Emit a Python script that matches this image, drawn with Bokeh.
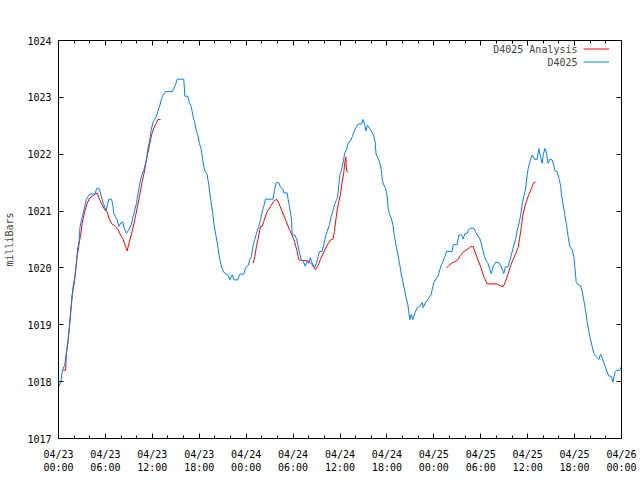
from bokeh.plotting import figure
from bokeh.models import FixedTicker, LinearAxis, Range1d, Label, Legend, LegendItem, CustomLabelingPolicy
from bokeh.embed import file_html
from bokeh.resources import INLINE

title_text = "Barometric Pressure for D4025 on 2024-Apr-23 (time in UTC)"
y_label = "milliBars"
series_names = ["D4025 Analysis", "D4025"]

# x values: hours since 2024-04-23 00:00 UTC
x_major = [0, 6, 12, 18, 24, 30, 36, 42, 48, 54, 60, 66, 72]
x_minor = list(range(0, 73, 2))
x_labels = ["04/23\n00:00", "04/23\n06:00", "04/23\n12:00", "04/23\n18:00",
            "04/24\n00:00", "04/24\n06:00", "04/24\n12:00", "04/24\n18:00",
            "04/25\n00:00", "04/25\n06:00", "04/25\n12:00", "04/25\n18:00",
            "04/26\n00:00"]
y_major = [1017, 1018, 1019, 1020, 1021, 1022, 1023, 1024]

obs_hours = [0.0, 0.3, 0.5, 0.8, 1.0, 1.24, 1.4, 1.53, 1.66, 1.88, 2.09, 2.26, 2.39, 2.6, 2.73, 2.94,
             3.16, 3.45, 3.58, 4.0, 4.64, 4.9, 5.15, 5.37, 5.58, 5.8, 6.1, 6.3, 6.43, 6.78, 6.94, 7.07,
             7.29, 7.5, 7.71, 7.97, 8.22, 8.4, 8.7, 9.0, 9.3, 9.5, 9.76, 9.97, 10.19, 10.36, 10.6, 10.9,
             11.13, 11.34, 11.42, 11.68, 11.85, 12.1, 12.27, 12.49, 12.7, 12.92, 13.13, 13.39, 13.68,
             14.54, 14.76, 14.98, 15.2, 16.02, 16.16, 16.53, 16.75, 16.97, 17.17, 17.39, 17.6, 17.81,
             18.03, 18.25, 18.45, 18.67, 19.01, 19.22, 19.35, 19.53, 19.73, 19.86, 20.08, 20.3, 20.5,
             20.72, 20.93, 21.23, 21.65, 21.91, 22.21, 22.42, 22.93, 23.18, 23.7, 23.91, 24.25, 24.46,
             24.68, 24.9, 25.1, 25.32, 25.62, 25.83, 26.05, 26.25, 26.47, 27.45, 27.62, 27.84, 28.17,
             28.39, 28.68, 28.81, 29.25, 29.37, 29.54, 29.8, 29.88, 30.22, 30.44, 30.65, 30.82, 31.04,
             31.3, 31.55, 31.8, 32.0, 32.2, 32.43, 32.74, 33.0, 33.2, 33.4, 33.7, 33.93, 34.2, 34.36,
             34.65, 34.87, 35.08, 35.3, 35.55, 35.72, 35.85, 35.98, 36.2, 36.42, 36.6, 36.85, 37.02,
             37.28, 37.58, 37.8, 38.1, 38.31, 38.74, 38.95, 39.17, 39.3, 39.51, 39.77, 40.03, 40.28,
             40.49, 40.62, 40.87, 41.1, 41.3, 41.4, 41.6, 41.82, 42.04, 42.16, 42.33, 42.55, 42.76,
             42.97, 43.19, 43.4, 43.6, 43.82, 44.03, 44.25, 44.46, 44.67, 44.93, 45.1, 45.31, 45.57,
             45.87, 46.2, 46.51, 46.64, 46.93, 47.36, 47.66, 47.79, 48.0, 48.21, 48.51, 48.77, 48.98,
             49.2, 49.4, 49.62, 50.35, 50.48, 50.99, 51.2, 51.54, 51.76, 51.96, 52.27, 52.47, 52.69,
             53.11, 53.32, 53.54, 53.84, 54.05, 54.26, 54.48, 54.7, 54.9, 55.16, 55.34, 55.6, 55.9,
             56.3, 56.6, 56.95, 57.16, 57.5, 57.7, 57.92, 58.14, 58.44, 58.65, 58.86, 59.07, 59.29,
             59.5, 59.72, 59.94, 60.07, 60.23, 60.36, 60.58, 60.87, 61.22, 61.42, 61.64, 61.86, 61.99,
             62.2, 62.4, 62.62, 62.83, 63.13, 63.34, 63.47, 63.77, 63.98, 64.2, 64.32, 64.54, 64.74,
             64.96, 65.18, 65.38, 65.69, 65.9, 66.03, 66.2, 66.41, 66.75, 66.97, 67.17, 67.39, 67.6,
             67.81, 68.03, 68.25, 68.45, 68.67, 68.89, 69.1, 69.31, 69.53, 69.73, 69.95, 70.17, 70.38,
             70.72, 70.9, 71.15, 71.37, 71.76, 72.0]
obs_values = [1017.9, 1018.0, 1018.2, 1018.3, 1018.5, 1018.74, 1018.95, 1019.15, 1019.36, 1019.68, 1019.85,
              1020.03, 1020.2, 1020.38, 1020.7, 1020.85, 1020.96, 1021.14, 1021.21, 1021.3, 1021.3, 1021.4,
              1021.4, 1021.32, 1021.2, 1021.11, 1021.01, 1021.14, 1021.21, 1021.21, 1021.11, 1020.96,
              1020.9, 1020.85, 1020.73, 1020.79, 1020.81, 1020.7, 1020.61, 1020.67, 1020.76, 1020.88,
              1021.02, 1021.14, 1021.32, 1021.46, 1021.6, 1021.72, 1021.84, 1021.99, 1022.1, 1022.25,
              1022.43, 1022.57, 1022.61, 1022.66, 1022.75, 1022.84, 1022.95, 1023.04, 1023.1, 1023.1,
              1023.16, 1023.23, 1023.32, 1023.32, 1023.02, 1023.02, 1022.9, 1022.84, 1022.69, 1022.57,
              1022.43, 1022.34, 1022.19, 1022.08, 1021.9, 1021.72, 1021.64, 1021.46, 1021.32, 1021.14,
              1020.96, 1020.79, 1020.61, 1020.44, 1020.26, 1020.09, 1019.98, 1019.91, 1019.88, 1019.79,
              1019.88, 1019.79, 1019.79, 1019.89, 1019.89, 1020.0, 1020.04, 1020.15, 1020.2, 1020.41,
              1020.5, 1020.61, 1020.73, 1020.85, 1020.99, 1021.08, 1021.21, 1021.21, 1021.37, 1021.5,
              1021.5, 1021.42, 1021.39, 1021.32, 1021.32, 1021.2, 1021.08, 1020.85, 1020.58, 1020.58,
              1020.51, 1020.38, 1020.26, 1020.15, 1020.12, 1020.03, 1020.12, 1020.08, 1020.18, 1020.09,
              1020.0, 1020.09, 1020.2, 1020.29, 1020.29, 1020.41, 1020.58, 1020.64, 1020.76, 1020.91,
              1020.99, 1021.11, 1021.2, 1021.26, 1021.46, 1021.64, 1021.72, 1021.87, 1022.02, 1022.08,
              1022.19, 1022.22, 1022.31, 1022.4, 1022.48, 1022.53, 1022.53, 1022.61, 1022.51, 1022.41,
              1022.51, 1022.46, 1022.4, 1022.34, 1022.22, 1021.99, 1021.93, 1021.84, 1021.72, 1021.55,
              1021.46, 1021.4, 1021.26, 1021.05, 1020.94, 1020.88, 1020.76, 1020.55, 1020.38, 1020.23,
              1020.09, 1019.91, 1019.76, 1019.62, 1019.47, 1019.36, 1019.09, 1019.18, 1019.09, 1019.21,
              1019.3, 1019.33, 1019.39, 1019.3, 1019.39, 1019.47, 1019.53, 1019.62, 1019.74, 1019.79,
              1019.85, 1019.97, 1020.06, 1020.12, 1020.2, 1020.29, 1020.29, 1020.41, 1020.41, 1020.58,
              1020.58, 1020.51, 1020.6, 1020.61, 1020.68, 1020.7, 1020.7, 1020.64, 1020.58, 1020.53,
              1020.44, 1020.32, 1020.2, 1020.12, 1020.09, 1019.97, 1019.9, 1020.03, 1020.1, 1020.1,
              1020.03, 1019.9, 1020.02, 1020.02, 1020.12, 1020.23, 1020.35, 1020.5, 1020.65, 1020.77,
              1020.9, 1021.11, 1021.26, 1021.37, 1021.64, 1021.75, 1021.84, 1021.9, 1021.99, 1021.91,
              1021.91, 1022.1, 1021.96, 1021.84, 1021.99, 1022.1, 1022.02, 1021.84, 1021.91, 1021.9,
              1021.81, 1021.71, 1021.69, 1021.58, 1021.46, 1021.29, 1021.11, 1020.94, 1020.76, 1020.55,
              1020.38, 1020.32, 1020.2, 1020.03, 1019.76, 1019.71, 1019.69, 1019.59, 1019.44, 1019.27,
              1019.06, 1018.89, 1018.74, 1018.62, 1018.5, 1018.45, 1018.42, 1018.39, 1018.48, 1018.42,
              1018.33, 1018.25, 1018.17, 1018.1, 1018.09, 1017.99, 1018.16, 1018.2, 1018.2, 1018.27]

ana1_hours = [0.6, 0.9, 1.02, 1.24, 1.5, 1.75, 2.05, 2.25, 2.47, 2.81, 3.03, 3.36, 3.67, 4.0, 4.39, 4.73,
              4.95, 5.24, 5.58, 5.92, 6.23, 6.43, 6.78, 7.29, 7.63, 7.93, 8.27, 8.57, 8.78, 9.08, 9.42,
              9.76, 10.06, 10.36, 10.7, 11.0, 11.2, 11.42, 11.68, 11.9, 12.19, 12.49, 12.7, 13.04]
ana1_values = [1018.2, 1018.2, 1018.51, 1018.74, 1019.15, 1019.53, 1019.76, 1020.05, 1020.35, 1020.55,
               1020.79, 1020.99, 1021.14, 1021.23, 1021.27, 1021.3, 1021.32, 1021.21, 1021.11, 1021.02,
               1020.99, 1020.88, 1020.78, 1020.73, 1020.67, 1020.58, 1020.5, 1020.38, 1020.3, 1020.47,
               1020.64, 1020.85, 1021.05, 1021.26, 1021.52, 1021.7, 1021.87, 1022.02, 1022.19, 1022.34,
               1022.46, 1022.54, 1022.61, 1022.61]
ana2_hours = [24.9, 25.1, 25.32, 25.62, 25.83, 26.05, 26.25, 26.69, 27.11, 27.53, 27.88, 28.17, 28.61,
              29.03, 29.45, 29.88, 30.17, 30.52, 30.72, 31.04, 31.58, 32.0, 32.43, 32.86, 33.16, 33.5,
              33.93, 34.36, 34.78, 35.12, 35.29, 35.42, 35.64, 35.85, 36.06, 36.28, 36.48, 36.6, 36.74,
              36.83, 37.0]
ana2_values = [1020.08, 1020.2, 1020.38, 1020.58, 1020.73, 1020.73, 1020.82, 1020.99, 1021.08, 1021.17,
               1021.21, 1021.14, 1020.99, 1020.85, 1020.7, 1020.57, 1020.47, 1020.29, 1020.15, 1020.13,
               1020.13, 1020.12, 1020.06, 1019.97, 1020.03, 1020.15, 1020.28, 1020.4, 1020.49, 1020.51,
               1020.64, 1020.79, 1021.02, 1021.17, 1021.29, 1021.52, 1021.67, 1021.84, 1021.95, 1021.72,
               1021.68]
ana3_hours = [49.62, 49.91, 50.35, 50.99, 51.41, 51.83, 52.34, 52.69, 53.03, 53.24, 53.54, 53.96, 54.39,
              54.82, 56.0, 56.43, 56.86, 57.16, 57.46, 57.8, 58.14, 58.44, 58.78, 58.95, 59.2, 59.37,
              59.63, 59.85, 60.14, 60.49, 60.78, 61.0]
ana3_values = [1020.0, 1020.04, 1020.09, 1020.13, 1020.22, 1020.29, 1020.33, 1020.37, 1020.38, 1020.29,
               1020.18, 1020.03, 1019.85, 1019.72, 1019.72, 1019.69, 1019.67, 1019.76, 1019.88, 1020.03,
               1020.15, 1020.24, 1020.36, 1020.5, 1020.73, 1020.91, 1021.08, 1021.17, 1021.29, 1021.4,
               1021.5, 1021.51]

FONT = "DejaVu Sans Mono"
FS = "10px"
RED = "#ff0000"
BLUE = "#0080ff"

p = figure(width=640, height=480, x_range=Range1d(0, 72), y_range=Range1d(1017, 1024),
           output_backend="svg", toolbar_location=None,
           min_border_left=58, min_border_right=19, min_border_top=40, min_border_bottom=42)
p.xgrid.visible = False
p.ygrid.visible = False
p.outline_line_color = "black"
p.outline_line_alpha = 1.0
p.background_fill_color = "white"
p.border_fill_color = "white"

red_r = p.multi_line(xs=[ana1_hours, ana2_hours, ana3_hours], ys=[ana1_values, ana2_values, ana3_values],
                     line_color=RED, line_width=1)
blue_r = p.line(obs_hours, obs_values, line_color=BLUE, line_width=1)

xticker = FixedTicker(ticks=x_major, minor_ticks=x_minor)
yticker = FixedTicker(ticks=y_major, minor_ticks=[])

no_labels = CustomLabelingPolicy(code="""
    const all = [...indices]
    for (const i of all) indices.unset(i)
    return indices
""")


def style(ax, show_labels=True):
    ax.axis_line_color = "black"
    ax.major_tick_line_color = "black"
    ax.minor_tick_line_color = "black"
    ax.major_tick_in = 5
    ax.major_tick_out = 0
    ax.minor_tick_in = 3
    ax.minor_tick_out = 0
    ax.major_label_text_font = FONT
    ax.major_label_text_color = "black"
    ax.major_label_text_font_size = FS
    if not show_labels:
        # mirrored tick marks only: no labels drawn, no room kept for them
        ax.major_label_policy = no_labels
        ax.major_label_text_font_size = "1px"
        ax.major_label_standoff = 0


xa = p.xaxis[0]
xa.ticker = xticker
xa.major_label_overrides = dict(zip(x_major, x_labels))
style(xa)
xa.major_label_standoff = 10
xa.major_label_text_line_height = 1.2

ya = p.yaxis[0]
ya.ticker = yticker
style(ya)
ya.major_label_standoff = 7
ya.axis_label = y_label
ya.axis_label_text_font = FONT
ya.axis_label_text_font_size = FS
ya.axis_label_text_font_style = "normal"
ya.axis_label_standoff = 9

top = LinearAxis(ticker=xticker)
style(top, False)
p.add_layout(top, "above")
right = LinearAxis(ticker=yticker)
style(right, False)
p.add_layout(right, "right")

# title (centred over the plot frame)
p.add_layout(Label(x=281.5, y=418, x_units="screen", y_units="screen", text=title_text,
                   text_font=FONT, text_font_size=FS, text_align="center", text_baseline="middle"))

# key: texts right-aligned, line samples to their right
p.add_layout(Label(x=519, y=389, x_units="screen", y_units="screen", text=series_names[0],
                   text_font=FONT, text_font_size=FS, text_align="right", text_baseline="middle"))
p.add_layout(Label(x=519, y=376, x_units="screen", y_units="screen", text=series_names[1],
                   text_font=FONT, text_font_size=FS, text_align="right", text_baseline="middle"))
legend = Legend(items=[LegendItem(label=" ", renderers=[red_r]), LegendItem(label=" ", renderers=[blue_r])],
                location=(525, 370), margin=0, padding=0, spacing=0,
                glyph_width=26, glyph_height=13, label_height=13, label_width=0, label_standoff=0,
                label_text_font_size="1px", border_line_color=None, background_fill_alpha=0)
p.add_layout(legend)

open("out.html", "w").write(file_html(p, INLINE))
